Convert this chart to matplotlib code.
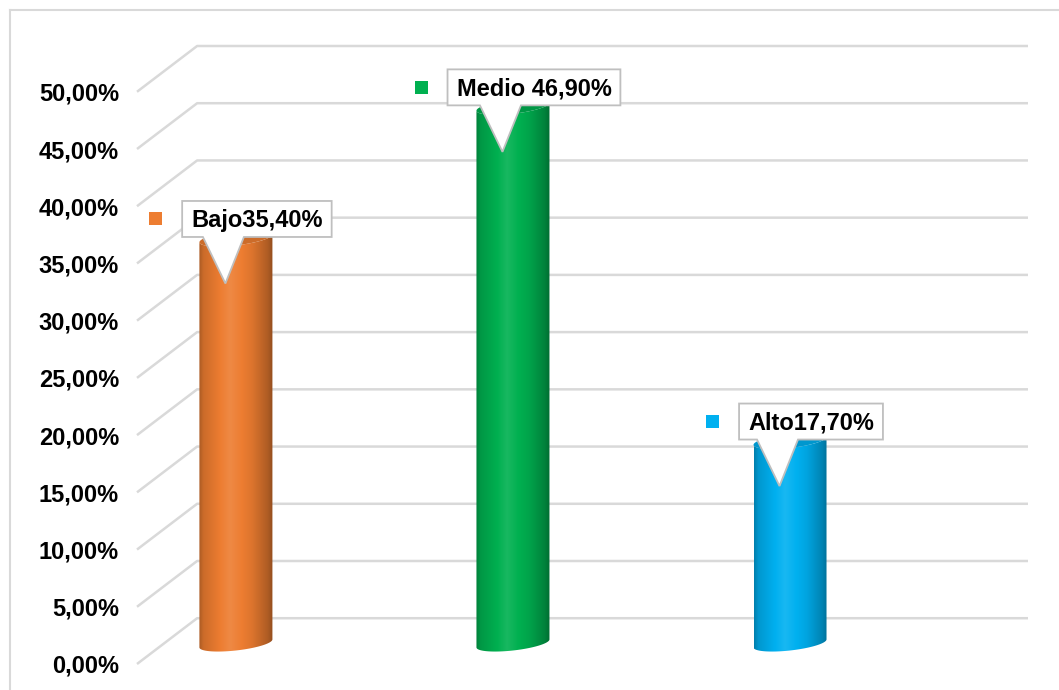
import numpy as np
import matplotlib
matplotlib.use("Agg")
import matplotlib.pyplot as plt
from matplotlib.path import Path
from matplotlib.patches import PathPatch, Polygon, Rectangle
from matplotlib.lines import Line2D

# ---------------- data ----------------
categories = ["Bajo", "Medio", "Alto"]
values = [35.4, 46.9, 17.7]
label_texts = ["Bajo35,40%", "Medio 46,90%", "Alto17,70%"]
colors = ["#ED7D31", "#00B050", "#00B0F0"]
tick_values = [0, 5, 10, 15, 20, 25, 30, 35, 40, 45, 50]
tick_labels = ["0,00%", "5,00%", "10,00%", "15,00%", "20,00%", "25,00%",
               "30,00%", "35,00%", "40,00%", "45,00%", "50,00%"]

# ---------------- style ----------------
plt.rcParams['font.family'] = ['Liberation Sans', 'DejaVu Sans']
W, H = 1059, 690
DPI = 100
fig = plt.figure(figsize=(W / DPI, H / DPI), dpi=DPI)
fig.patch.set_facecolor("white")

left_px, right_px, top_px, bot_px = 137, 1028, 46, 664
ax = fig.add_axes([left_px / W, 1 - bot_px / H, (right_px - left_px) / W, (bot_px - top_px) / H])
XLIM = (-0.357, 2.859)
YLIM = (-2.0, 52.0)
ax.set_xlim(*XLIM)
ax.set_ylim(*YLIM)
for s in ax.spines.values():
    s.set_visible(False)
ax.set_xticks([])
ax.patch.set_alpha(0)

depth = 2.0          # half depth of the floor in value units
x_back = -0.140      # x of back-left corner of the wall

grid_c = "#d9d9d9"
for v in tick_values:
    ax.add_line(Line2D([XLIM[0], x_back, XLIM[1]], [v - depth, v + depth, v + depth],
                       color=grid_c, lw=1.8, clip_on=False, zorder=1,
                       solid_capstyle="butt"))

ax.set_yticks([v - depth for v in tick_values])
ax.set_yticklabels(tick_labels, fontsize=17, fontweight="bold", color="black")
ax.tick_params(axis="y", length=0, pad=13)

# ---------------- cylinders ----------------
w = 0.2635
a_ell = 0.62
tilt = 0.35
yb_off = -0.2

prof_t = [0.0, 0.06, 0.42, 0.72, 0.93, 1.0]
prof_f = [0.72, 0.86, 1.08, 0.93, 0.74, 0.62]

def shade(rgb, f):
    rgb = np.array(rgb)
    if f <= 1:
        return np.clip(rgb * f, 0, 1)
    return np.clip(rgb + (1 - rgb) * (f - 1) * 1.2, 0, 1)

def ell(xc, yc, t):
    return (xc + (w / 2) * np.cos(t), yc + yb_off + a_ell * np.sin(t) + tilt * np.cos(t))

for i, (v, c) in enumerate(zip(values, colors)):
    base = np.array(matplotlib.colors.to_rgb(c))
    xc = i
    t_low = np.linspace(np.pi, 2 * np.pi, 60)
    bx, by = ell(xc, 0.0, t_low)
    t_back = np.linspace(2 * np.pi, np.pi, 60)
    tx_, ty_ = ell(xc, v, t_back)
    verts = [ell(xc, v, np.pi)]
    verts += list(zip(bx, by))
    verts += list(zip(tx_, ty_))
    verts.append(verts[0])
    codes = [Path.MOVETO] + [Path.LINETO] * (len(verts) - 2) + [Path.CLOSEPOLY]
    body = Path(verts, codes)
    patch = PathPatch(body, facecolor="none", edgecolor="none", zorder=2)
    ax.add_patch(patch)

    tt = np.linspace(0, 1, 200)
    ff = np.interp(tt, prof_t, prof_f)
    img = np.array([shade(base, f) for f in ff])[None, :, :]
    im = ax.imshow(img, extent=[xc - w / 2, xc + w / 2, -2, v + 2], aspect="auto",
                   interpolation="bilinear", zorder=2)
    im.set_clip_path(patch)

    # top face
    tt3 = np.linspace(0, 2 * np.pi, 120)
    ex, ey = ell(xc, v, tt3)
    ax.add_patch(Polygon(list(zip(ex, ey)), closed=True, facecolor=shade(base, 0.86),
                         edgecolor="none", zorder=3))

ax.set_xlim(*XLIM)
ax.set_ylim(*YLIM)

# ---------------- callouts ----------------
renderer = fig.canvas.get_renderer()
fs = 17
cap_px = 0.716 * fs * DPI / 72
inv = ax.transData.inverted()
for i, (v, c, lab) in enumerate(zip(values, colors, label_texts)):
    X, Y = ax.transData.transform((i, v))
    cx, cy = X + 21, Y + 17
    tx, ty = inv.transform((cx, cy - cap_px / 2))
    txt = ax.text(tx, ty, lab, fontsize=fs, fontweight="bold", ha="center",
                  va="baseline", color="black", zorder=6)
    ext = txt.get_window_extent(renderer=renderer)
    x0, x1 = ext.x0 - 9, ext.x1 + 9
    yt, yb = cy + 18, cy - 18
    pl, pr = X - 33, X + 8
    tip = (X - 10.5, Y - 47.5)
    poly_disp = [(x0, yt), (x1, yt), (x1, yb), (pr, yb), tip, (pl, yb), (x0, yb)]
    poly_data = inv.transform(poly_disp)
    ax.add_patch(Polygon(poly_data, closed=True, facecolor="white", edgecolor="#bfbfbf",
                         lw=1.3, zorder=5, clip_on=False, joinstyle="miter"))
    sq = 13
    sx0, sy0 = x0 - 26.5 - sq / 2, cy - sq / 2
    p0 = inv.transform((sx0, sy0))
    p1 = inv.transform((sx0 + sq, sy0 + sq))
    ax.add_patch(Rectangle(p0, p1[0] - p0[0], p1[1] - p0[1], facecolor=c,
                           edgecolor="none", zorder=6, clip_on=False))

# ---------------- chart frame ----------------
fig.add_artist(Line2D([9.5 / W, 9.5 / W], [0, 1 - 9.5 / H], color="#d9d9d9", lw=1.5,
                      transform=fig.transFigure))
fig.add_artist(Line2D([9.5 / W, 1], [1 - 9.5 / H, 1 - 9.5 / H], color="#d9d9d9", lw=1.5,
                      transform=fig.transFigure))

fig.savefig("out.png", dpi=DPI, facecolor="white")
